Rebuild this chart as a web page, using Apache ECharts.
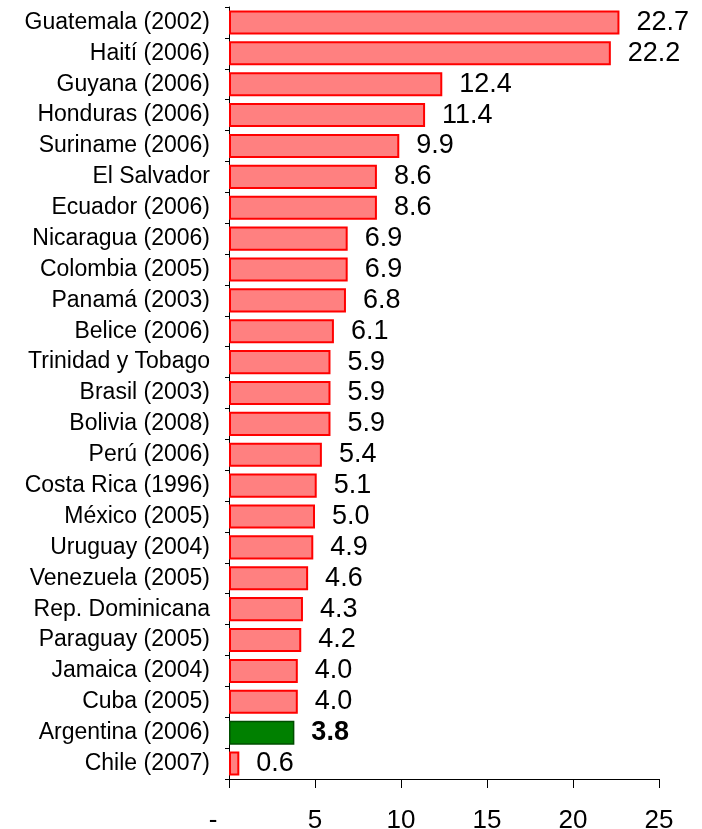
<!DOCTYPE html>
<html>
<head>
<meta charset="utf-8">
<script src="https://cdn.jsdelivr.net/npm/echarts@6/dist/echarts.min.js"></script>
<style>
html,body{margin:0;padding:0;background:#fff;}
#chart{width:702px;height:829px;}
</style>
</head>
<body>
<div id="chart"></div>
<script>
var categories = ["Guatemala (2002)","Haití (2006)","Guyana (2006)","Honduras (2006)","Suriname (2006)","El Salvador","Ecuador (2006)","Nicaragua (2006)","Colombia (2005)","Panamá (2003)","Belice (2006)","Trinidad y Tobago","Brasil (2003)","Bolivia (2008)","Perú (2006)","Costa Rica (1996)","México (2005)","Uruguay (2004)","Venezuela (2005)","Rep. Dominicana","Paraguay (2005)","Jamaica (2004)","Cuba (2005)","Argentina (2006)","Chile (2007)"];
var values = [22.7,22.2,12.4,11.4,9.9,8.6,8.6,6.9,6.9,6.8,6.1,5.9,5.9,5.9,5.4,5.1,5.0,4.9,4.6,4.3,4.2,4.0,4.0,3.8,0.6];
var highlight = "Argentina (2006)";
var xTicks = [0,5,10,15,20,25];

var FONT = 'Liberation Sans, Arial, sans-serif';
var data = values.map(function(v,i){
  var hl = categories[i] === highlight;
  return {
    value: v,
    itemStyle: hl ? {color:'#008000', borderColor:'#004d00', borderWidth:1.5}
                  : {color:'#FF8080', borderColor:'#FF0000', borderWidth:2},
    label: hl ? {fontWeight:'bold'} : {}
  };
});
var chart = echarts.init(document.getElementById('chart'), null, {renderer:'canvas'});
chart.setOption({
  animation:false,
  grid:{left:229, right:43, top:7, bottom:50, containLabel:false, outerBoundsMode:'none'},
  xAxis:{
    type:'value', min:0, max:25, interval:5,
    axisLine:{show:true, lineStyle:{color:'#000', width:1}},
    axisTick:{show:true, inside:false, length:9, lineStyle:{color:'#000'}},
    splitLine:{show:false},
    axisLabel:{
      margin:29, fontSize:26, color:'#000', fontFamily:FONT,
      formatter:function(v){ return v===0 ? '{d|-}' : String(v); },
      rich:{d:{fontSize:26, color:'#000', fontFamily:FONT, padding:[0,32,0,0]}}
    }
  },
  yAxis:{
    type:'category', data:categories, inverse:true,
    axisLine:{show:true, lineStyle:{color:'#000', width:1}},
    axisTick:{show:true, inside:false, length:4, lineStyle:{color:'#000'}},
    axisLabel:{margin:19, fontSize:23, color:'#000', fontFamily:FONT}
  },
  series:[{
    type:'bar', data:data, barCategoryGap:'22%',
    label:{show:true, position:'right', distance:17, fontSize:27, color:'#000', fontFamily:FONT,
      formatter:function(p){ return p.value.toFixed(1); }}
  }]
});
</script>
</body>
</html>
